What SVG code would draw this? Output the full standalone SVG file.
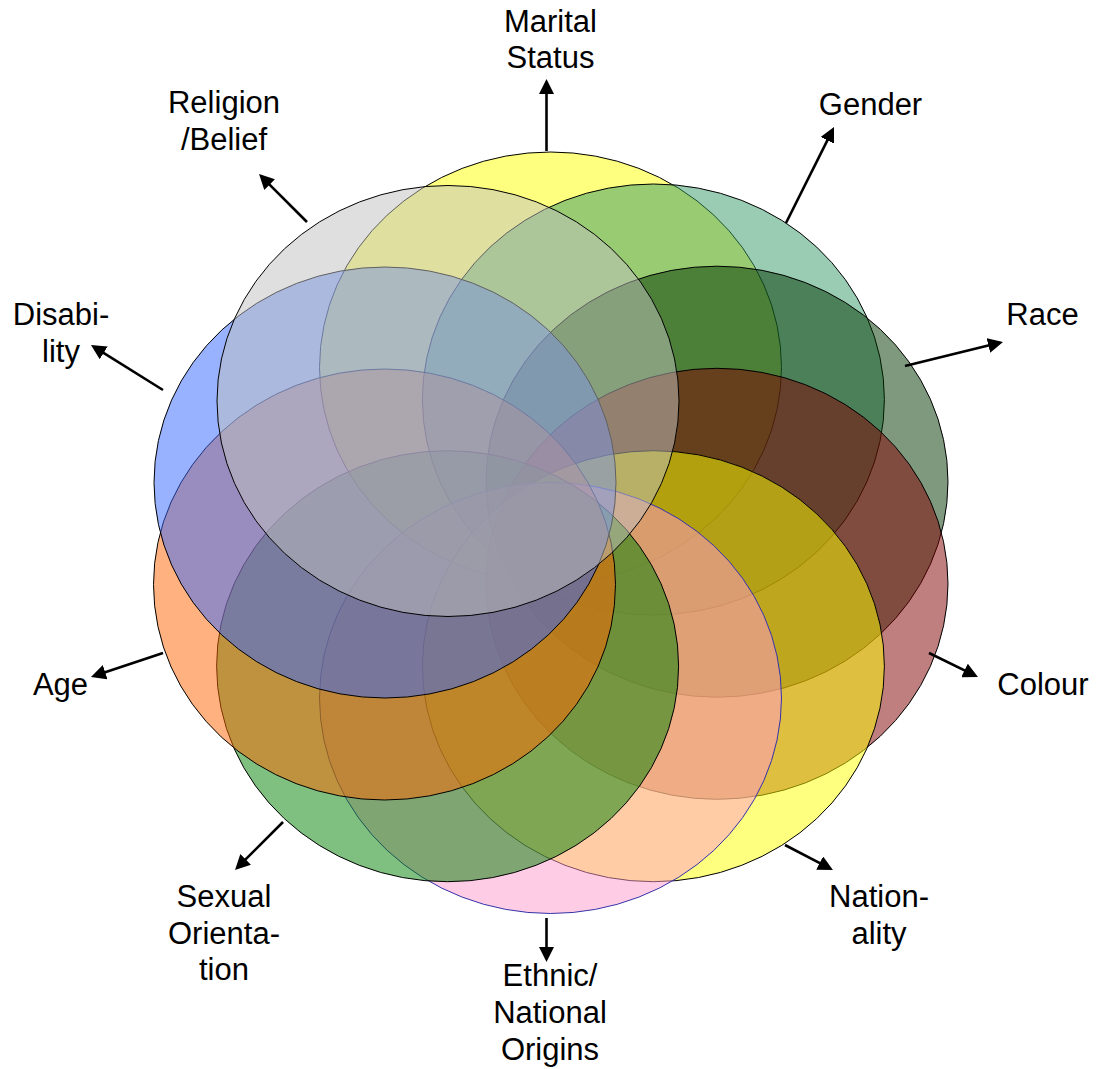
<svg xmlns="http://www.w3.org/2000/svg" width="1102" height="1069" viewBox="0 0 1102 1069">
<style>
.e{fill-opacity:0.5;stroke:#000;stroke-width:1}
.t{font-family:"Liberation Sans",Arial,sans-serif;font-size:31px;fill:#000;text-anchor:middle}
.c{stroke:#000;stroke-width:2.6;fill:none;marker-end:url(#ah)}
</style>
<defs>
<marker id="ah" viewBox="0 0 15 15" markerWidth="15" markerHeight="15" markerUnits="userSpaceOnUse" refX="4" refY="7.5" orient="auto">
<path d="M0,0 L15,7.5 L0,15 z" fill="#000"/>
</marker>
</defs>
<rect width="1102" height="1069" fill="#fff"/>
<g id="marital-status">
<ellipse class="e" cx="550.5" cy="367.5" rx="231" ry="215.5" fill="#FFFF00"/>
<text class="t" x="550.5" y="32">Marital</text>
<text class="t" x="550.5" y="68">Status</text>
</g>
<g id="gender">
<ellipse class="e" cx="653.4" cy="399.5" rx="231" ry="215.5" fill="#339966"/>
<text class="t" x="870.5" y="115">Gender</text>
</g>
<g id="race">
<ellipse class="e" cx="717" cy="481.7" rx="231" ry="215.5" fill="#003300"/>
<text class="t" x="1042.5" y="325">Race</text>
</g>
<g id="colour">
<ellipse class="e" cx="717" cy="583.8" rx="231" ry="215.5" fill="#800000"/>
<text class="t" x="1043" y="695">Colour</text>
</g>
<g id="nationality">
<ellipse class="e" cx="653.4" cy="666.2" rx="231" ry="215.5" fill="#FFFF00"/>
<text class="t" x="879" y="907">Nation-</text>
<text class="t" x="879" y="944">ality</text>
</g>
<g id="ethnic-national-origins">
<ellipse class="e" cx="550.5" cy="698" rx="231" ry="215.5" fill="#FF99CC" style="stroke:#3333AA"/>
<text class="t" x="550" y="986">Ethnic/</text>
<text class="t" x="550" y="1023">National</text>
<text class="t" x="550" y="1060">Origins</text>
</g>
<g id="sexual-orientation">
<ellipse class="e" cx="447.6" cy="666.2" rx="231" ry="215.5" fill="#008000"/>
<text class="t" x="224" y="907">Sexual</text>
<text class="t" x="224" y="943.5">Orienta-</text>
<text class="t" x="224" y="980">tion</text>
</g>
<g id="age">
<ellipse class="e" cx="384.5" cy="584.5" rx="231" ry="215.5" fill="#FF6600"/>
<text class="t" x="60.5" y="695">Age</text>
</g>
<g id="disability">
<ellipse class="e" cx="385" cy="482.5" rx="231" ry="215.5" fill="#3366FF"/>
<text class="t" x="61" y="325">Disabi-</text>
<text class="t" x="61" y="362">lity</text>
</g>
<g id="religion-belief">
<ellipse class="e" cx="448" cy="401" rx="231" ry="215.5" fill="#C0C0C0"/>
<text class="t" x="224" y="113">Religion</text>
<text class="t" x="224" y="150">/Belief</text>
</g>
<g id="connectors">
<line class="c" x1="546.5" y1="151" x2="546.5" y2="90"/>
<line class="c" x1="786" y1="223" x2="829.1" y2="136.8"/>
<line class="c" x1="905" y1="366" x2="992.3" y2="344.6"/>
<line class="c" x1="929" y1="653" x2="968.1" y2="672.2"/>
<line class="c" x1="785" y1="845" x2="823.2" y2="864.9"/>
<line class="c" x1="546.5" y1="918" x2="546.5" y2="951"/>
<line class="c" x1="283" y1="822" x2="242.8" y2="862.2"/>
<line class="c" x1="163" y1="653" x2="101.4" y2="673.5"/>
<line class="c" x1="163" y1="390" x2="100.3" y2="350.8"/>
<line class="c" x1="307" y1="222" x2="266.8" y2="181.8"/>
</g>
</svg>
